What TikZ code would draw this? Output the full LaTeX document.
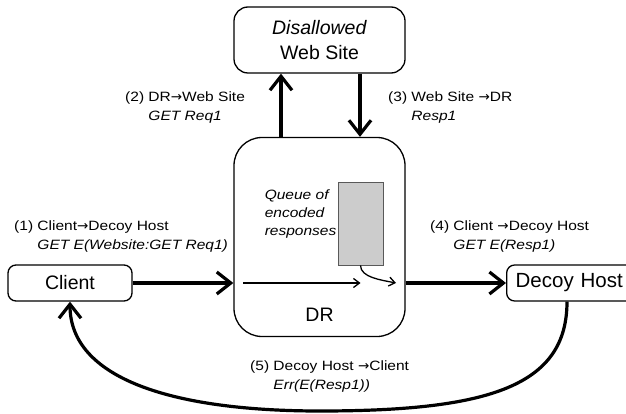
\documentclass[tikz,border=0pt]{standalone}
\usepackage{fontspec}
\setmainfont{Liberation Sans}
\newfontfamily\lblfont[FakeStretch=1.15]{Liberation Sans}
\newfontfamily\arrfont{DejaVu Sans}
\newcommand{\msgarr}{{\arrfont →}}
\usepackage{tikz}
\usetikzlibrary{positioning}
\usetikzlibrary{arrows.meta}
\tikzset{
  bigtxt/.style={font=\fontsize{19.5}{25}\selectfont, align=center, inner sep=0pt},
  box/.style={bigtxt, draw, line width=1.3pt, rounded corners=8pt},
  lbl/.style={font=\lblfont\fontsize{13.5}{19}\selectfont, align=left, inner sep=0pt, anchor=north west},
  flow/.style={line width=3.2pt, -{Straight Barb[length=14pt,width=22pt]}},
  thinflow/.style={line width=1.3pt, -{Straight Barb[length=6pt,width=9pt]}},
}

\begin{document}
\begin{tikzpicture}[x=1pt,y=-1pt]
\useasboundingbox (0,0) rectangle (626,414);
\node[box, minimum width=171pt, minimum height=66pt, rounded corners=14pt] (web) at (319.5,40) {\textit{Disallowed}\\Web Site};
\node[box, minimum width=171pt, minimum height=199pt, rounded corners=28pt] (dr) at (319.5,237) {};
\node[bigtxt, above=15pt of dr.south] (drname) {DR};
\node[box, minimum width=124pt, minimum height=36pt] (client) at (70,283) {Client};
\node[box, font=\fontsize{20.5}{25}\selectfont, inner xsep=9pt, text width=125pt, align=left, minimum height=36pt, anchor=west] (decoy) at (506,283) {Decoy Host};
\node[draw=black!65, fill=black!20, line width=0.8pt, minimum width=45pt, minimum height=83pt] (queue) at (360.5,223.5) {};
\node[lbl, anchor=north east, font=\lblfont\itshape\fontsize{13.5}{18}\selectfont] (qtxt) at ([shift={(-1pt,-8pt)}]queue.north west) {Queue of\\encoded\\responses};
% message labels
\node[lbl] (msg1) at (14,221) {(1) Client\msgarr Decoy Host\\\phantom{(1) }\textit{GET E(Website:GET Req1)}};
\node[lbl] (msg2) at (125,92) {(2) DR\msgarr Web Site\\\phantom{(2) }\textit{GET Req1}};
\node[lbl] (msg3) at (388,92) {(3) Web Site \msgarr DR\\\phantom{(3) }\textit{Resp1}};
\node[lbl] (msg4) at (430,221) {(4) Client \msgarr Decoy Host\\\phantom{(4) }\textit{GET E(Resp1)}};
\node[lbl] (msg5) at (250,361) {(5) Decoy Host \msgarr Client\\\phantom{(5) }\textit{Err(E(Resp1))}};
% connectors
\draw[flow] (client.east) -- (client.east -| dr.west);
\draw[flow] (dr.east |- decoy.west) -- (decoy.west);
\draw[flow] ([xshift=-38.5pt]dr.north) -- ([xshift=-38.5pt]web.south);
\draw[flow] ([xshift=40.5pt]web.south) -- ([xshift=40.5pt]dr.north);
\coordinate (qstart) at (243,283);
\coordinate (qend) at (396,283);
\draw[thinflow] (qstart) -- (queue.south |- qstart);
\draw[thinflow] (queue.south) .. controls +(0,12) and +(-15,-3) .. (qend);
\coordinate (loopbot) at (320,411);
\draw[flow] ([xshift=61pt]decoy.south west) .. controls +(0,84) and +(170,0) .. (loopbot) .. controls +(-150,0) and +(0,76) .. (client.south);
\end{tikzpicture}
\end{document}
